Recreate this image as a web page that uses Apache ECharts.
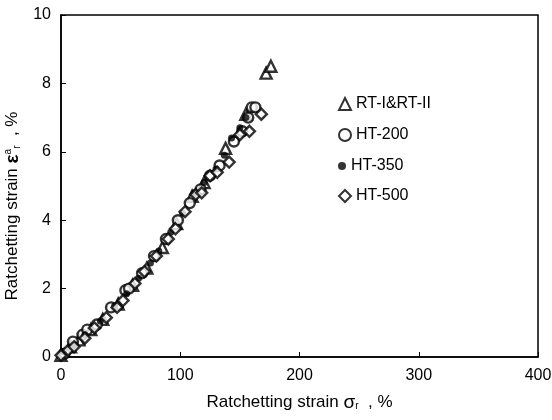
<!DOCTYPE html>
<html>
<head>
<meta charset="utf-8">
<script src="https://cdn.jsdelivr.net/npm/echarts@6/dist/echarts.min.js"></script>
<style>html,body{margin:0;padding:0;background:#fff}#c{width:552px;height:420px}</style>
</head>
<body>
<div id="c"></div>
<script>
var seriesNames = ['RT-I&RT-II', 'HT-200', 'HT-350', 'HT-500'];
var xTicks = [0, 100, 200, 300, 400];
var yTicks = [0, 2, 4, 6, 8, 10];
var rtData = [[0,0.05],[8,0.3],[15,0.5],[25,0.8],[35,1.1],[48,1.55],[60,2.1],[72,2.6],[85,3.2],[97,3.9],[110,4.7],[120,5.1],[138,6.1],[155,7.1],[172,8.3],[176,8.5]];
var ht200Data = [[3,0.1],[10,0.45],[18,0.65],[22,0.8],[30,0.95],[42,1.45],[54,1.95],[57,2.0],[68,2.45],[78,2.95],[88,3.45],[98,4.0],[108,4.5],[117,4.9],[125,5.3],[133,5.6],[145,6.3],[152,6.6],[157,7.0],[160,7.3],[163,7.3]];
var ht350Data = [[2,0.15],[12,0.35],[20,0.65],[33,1.05],[45,1.5],[55,1.85],[65,2.3],[75,2.75],[82,3.1],[92,3.65],[102,4.2],[112,4.8],[120,5.1],[130,5.5],[137,5.9],[143,6.4],[150,6.7],[155,7.0]];
var ht500Data = [[0,0.05],[6,0.2],[11,0.3],[20,0.55],[28,0.85],[38,1.15],[47,1.45],[52,1.65],[62,2.15],[70,2.5],[80,2.95],[90,3.45],[96,3.75],[104,4.25],[113,4.75],[118,4.8],[125,5.3],[131,5.4],[141,5.7],[150,6.5],[158,6.6],[168,7.1]];

var font = 'Liberation Sans, Arial, sans-serif';
var hollow = {color:'#fff', borderColor:'#000', borderWidth:2.4};
function legendFor(name, top, w, h) {
  return {data:[name], left:333, top:top, orient:'vertical', itemWidth:w, itemHeight:h, itemGap:5,
    textStyle:{fontFamily:font, fontSize:16, color:'#000'}, selectedMode:false};
}
var chart = echarts.init(document.getElementById('c'), null, {renderer:'canvas'});
chart.setOption({
  backgroundColor:'#fff',
  animation:false,
  grid:{left:61, right:14, top:15, bottom:63, show:true, borderColor:'#000', borderWidth:1.5, backgroundColor:'transparent', outerBoundsMode:'none', containLabel:false},
  legend:[
    legendFor(seriesNames[0], 91, 12, 12),
    legendFor(seriesNames[1], 122, 12, 12),
    legendFor(seriesNames[2], 153, 8, 8),
    legendFor(seriesNames[3], 183, 12, 12)
  ],
  xAxis:{type:'value', min:xTicks[0], max:xTicks[xTicks.length-1], interval:100,
    name:'{n|Ratchetting strain }{g|σ}{s|r}{n|  , %}', nameLocation:'middle', nameGap:36,
    nameTextStyle:{fontFamily:font, fontSize:17, color:'#000',
      rich:{n:{fontFamily:font, fontSize:17, color:'#000'}, g:{fontFamily:font, fontSize:19, color:'#000'}, s:{fontFamily:font, fontSize:10, color:'#000', padding:[8,0,0,0]}}},
    axisLine:{lineStyle:{color:'#000', width:1.5}},
    axisTick:{inside:true, length:5, lineStyle:{color:'#000'}},
    axisLabel:{fontFamily:font, fontSize:16, color:'#000', margin:11},
    splitLine:{show:false}},
  yAxis:{type:'value', min:yTicks[0], max:yTicks[yTicks.length-1], interval:2,
    name:'{n|Ratchetting strain }{g|ε}{a|a}{s|r}{n|  , %}', nameLocation:'middle', nameGap:33,
    nameTextStyle:{fontFamily:font, fontSize:17, color:'#000', padding:[0,40,0,0],
      rich:{n:{fontFamily:font, fontSize:17, color:'#000'}, g:{fontFamily:font, fontSize:19, color:'#000', fontWeight:'bold'}, a:{fontFamily:font, fontSize:10, color:'#000', padding:[0,0,10,0]}, s:{fontFamily:font, fontSize:10, color:'#000', padding:[8,0,0,0]}}},
    axisLine:{lineStyle:{color:'#000', width:1.5}},
    axisTick:{inside:true, length:5, lineStyle:{color:'#000'}},
    axisLabel:{fontFamily:font, fontSize:16, color:'#000', margin:10},
    splitLine:{show:false}},
  series:[
    {name:seriesNames[0], type:'scatter', data:rtData, symbol:'triangle', symbolSize:11, itemStyle:hollow},
    {name:seriesNames[1], type:'scatter', data:ht200Data, symbol:'circle', symbolSize:10, itemStyle:hollow},
    {name:seriesNames[2], type:'scatter', data:ht350Data, symbol:'circle', symbolSize:7, itemStyle:{color:'#000'}},
    {name:seriesNames[3], type:'scatter', data:ht500Data, symbol:'diamond', symbolSize:11, itemStyle:hollow}
  ]
});
</script>
</body>
</html>
